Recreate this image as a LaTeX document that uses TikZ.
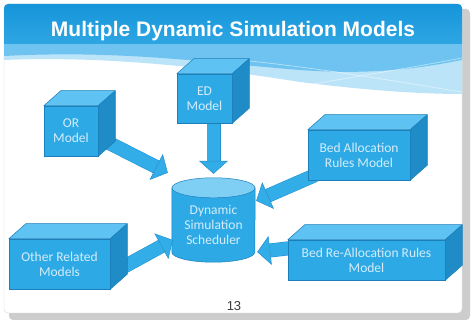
\documentclass[tikz,border=0pt]{standalone}
\usepackage{fontspec}
\setmainfont{Carlito}
\newfontfamily\headfont{Liberation Sans}
\usepackage{xcolor}
\usepackage{tikz}
\usetikzlibrary{arrows.meta,calc,backgrounds}
\definecolor{headtop}{HTML}{1595DA}
\definecolor{headbot}{HTML}{2FA6E3}
\definecolor{headband}{HTML}{6EC3F0}
\definecolor{headpale}{HTML}{BCE4F9}
\definecolor{shadowgray}{HTML}{CDCDCD}
\definecolor{cardline}{HTML}{D6D6D6}
\definecolor{facefront}{HTML}{2DAAE6}
\definecolor{facetop}{HTML}{5EC2F3}
\definecolor{faceside}{HTML}{1F8CC8}
\definecolor{faceedge}{HTML}{1C7FBA}
\definecolor{facetext}{HTML}{D4ECFA}
\definecolor{lidfill}{HTML}{7FCFF5}
\definecolor{arrowfill}{HTML}{33ADE8}
\definecolor{arrowedge}{HTML}{2490CE}
\definecolor{pagegray}{HTML}{3C3C3C}
\pgfdeclarelayer{background}
\pgfdeclarelayer{flow}
\pgfsetlayers{background,flow,main}
\tikzset{
  cube/.style={draw=faceedge, line width=0.5pt, fill=facefront, text=facetext, align=center, inner sep=2pt, font=\fontsize{13.5}{15}\selectfont},
  cubetop/.style={draw=faceedge, line width=0.5pt, fill=facetop, line join=round},
  cubeside/.style={draw=faceedge, line width=0.5pt, fill=faceside, line join=round},
  drum/.style={minimum width=83pt, minimum height=74pt, inner sep=0pt, align=center, text=facetext, font=\fontsize{13.5}{15}\selectfont},
  drumbody/.style={draw=faceedge, line width=0.5pt, fill=facefront},
  drumlid/.style={draw=faceedge, line width=0.5pt, fill=lidfill},
  fatarrow/.style={draw=arrowedge, line width=0.5pt, double=arrowfill, double distance=13pt,
    -{Triangle[length=13pt, width=29pt, line width=0.5pt, fill=arrowfill, color=arrowedge]}},
  title/.style={text=white, font=\headfont\bfseries\fontsize{21}{24}\selectfont},
  pagenum/.style={text=pagegray, font=\headfont\fontsize{13}{15}\selectfont}
}

\begin{document}
\begin{tikzpicture}[x=1pt, y=-1pt]
  \useasboundingbox (0,0) rectangle (472,323);

  % slide
  \begin{scope}[on background layer]
    \fill[shadowgray, rounded corners=4pt] (9,9) rectangle (470,320);
    \draw[cardline, fill=white, rounded corners=4pt] (4,4) rectangle (462,313);
    \fill[headpale] (4,44) -- (462,44) -- (462,94) .. controls (430,94) and (380,92) .. (300,82)
      .. controls (200,66) and (100,56) .. (4,60) -- cycle;
    \fill[headband] (4,44) -- (462,44) -- (462,60) .. controls (430,66) and (380,76) .. (300,70)
      .. controls (200,62) and (120,50) .. (4,56) -- cycle;
    \draw[white, opacity=0.45, line width=0.8pt] (240,60) .. controls (320,68) and (400,82) .. (462,92);
    \draw[white, opacity=0.45, line width=0.8pt] (290,88) .. controls (360,76) and (420,66) .. (462,58);
    \shade[top color=headtop, bottom color=headbot] (4,44) [rounded corners=4pt] -- (4,4) -- (462,4)
      [sharp corners] -- (462,44) -- cycle;
  \end{scope}

  \node[title] (heading) at (233,31.5) {Multiple Dynamic Simulation Models};

  % models
  \node[cube, minimum width=54pt, minimum height=50pt] (ormodel) at (71,131) {OR\\Model};
  \node[cube, minimum width=55pt, minimum height=49pt] (edmodel) at (204.5,98.5) {ED\\Model};
  \node[cube, minimum width=102pt, minimum height=50pt] (bedalloc) at (359,155) {Bed Allocation\\Rules Model};
  \node[cube, minimum width=101pt, minimum height=50pt] (othermodels) at (59.5,264) {Other Related\\Models};
  \node[cube, minimum width=157pt, minimum height=40pt] (bedrealloc) at (366.5,260) {Bed Re-Allocation Rules\\Model};

  \foreach \n in {ormodel,edmodel,bedalloc,othermodels,bedrealloc}{
    \draw[cubetop] (\n.north west) -- ++(17,-15) -- ($(\n.north east)+(17,-15)$) -- (\n.north east) -- cycle;
    \draw[cubeside] (\n.north east) -- ++(17,-15) -- ($(\n.south east)+(17,-15)$) -- (\n.south east) -- cycle;
  }

  % scheduler
  \node[drum] (scheduler) at (213.5,225) {Dynamic\\Simulation\\Scheduler};
  \begin{scope}[on background layer]
    \draw[drumbody] (scheduler.north west) -- ([yshift=10pt]scheduler.south west)
      arc[start angle=180, end angle=360, x radius=41.5pt, y radius=10pt] -- (scheduler.north east) -- cycle;
    \draw[drumlid] (scheduler.north) ellipse[x radius=41.5pt, y radius=10pt];
  \end{scope}

  \begin{pgfonlayer}{flow}
    \draw[fatarrow] ($(ormodel.east)+(3,8)$) -- ($(scheduler.north west)+(-4,-15)$);
    \draw[fatarrow] ($(edmodel.south)+(9,-8)$) -- ($(scheduler.north)+(0,-14)$);
    \draw[fatarrow] ($(bedalloc.south west)+(7,-5)$) -- ($(scheduler.north east)+(1,13)$);
    \draw[fatarrow] ($(othermodels.east)+(4,8)$) -- ($(scheduler.west)+(1,15)$);
    \draw[fatarrow] ($(bedrealloc.west)+(8,-12.5)$) -- ($(scheduler.east)+(2,27)$);
  \end{pgfonlayer}

  \node[pagenum] (pageno) at (234,306) {13};
\end{tikzpicture}
\end{document}
